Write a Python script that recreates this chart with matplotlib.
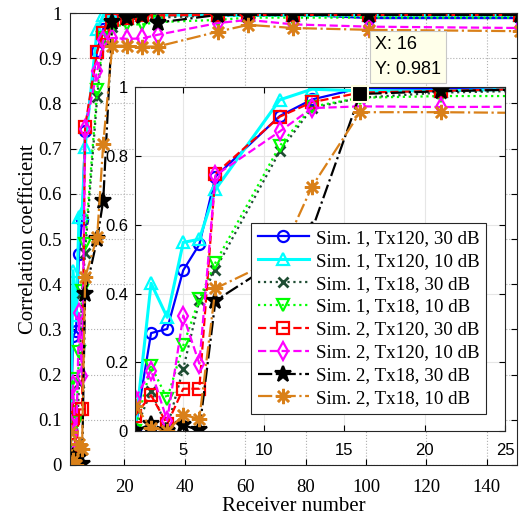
import numpy as np
import matplotlib
matplotlib.use('Agg')
import matplotlib.pyplot as plt

# receiver numbers
rx = [2, 3, 4, 5, 6, 7, 11, 13, 16, 21, 26, 31, 51, 61, 76, 101, 151]

s1_tx120_30 = [0.0, 0.285, 0.297, 0.468, 0.543, 0.740, 0.917, 0.965, 0.998, 0.995, 0.998, 0.997, 0.997, 0.997, 0.997, 0.989, 0.989]
s1_tx120_10 = [0.0, 0.430, 0.331, 0.549, 0.558, 0.703, 0.964, 0.995, 0.990, 0.990, 0.995, 0.996, 0.995, 0.995, 0.995, 0.995, 0.995]
s1_tx18_30 = [0.0, 0.115, 0.010, 0.181, 0.380, 0.470, 0.814, 0.940, 0.970, 0.985, 0.990, 0.990, 0.995, 0.995, 0.995, 0.995, 0.995]
s1_tx18_10 = [0.0, 0.190, 0.094, 0.249, 0.384, 0.490, 0.830, 0.944, 0.970, 0.975, 0.975, 0.980, 0.985, 0.990, 0.990, 0.990, 0.990]
s2_tx120_30 = [0.045, 0.104, 0.020, 0.123, 0.123, 0.749, 0.915, 0.957, 0.985, 0.990, 0.995, 0.995, 0.996, 0.996, 0.996, 0.996, 0.996]
s2_tx120_10 = [0.094, 0.176, 0.030, 0.336, 0.196, 0.744, 0.872, 0.940, 0.945, 0.943, 0.944, 0.952, 0.978, 0.985, 0.975, 0.970, 0.967]
s2_tx18_30 = [0.0, 0.020, 0.0, 0.017, 0.002, 0.379, 0.500, 0.585, 0.981, 0.989, 0.994, 0.979, 0.996, 0.996, 0.996, 0.996, 0.996]
s2_tx18_10 = [0.074, 0.010, 0.0, 0.046, 0.036, 0.415, 0.505, 0.711, 0.928, 0.928, 0.926, 0.926, 0.959, 0.974, 0.967, 0.963, 0.960]

labels = ['Sim. 1, Tx120, 30 dB', 'Sim. 1, Tx120, 10 dB', 'Sim. 1, Tx18, 30 dB', 'Sim. 1, Tx18, 10 dB',
          'Sim. 2, Tx120, 30 dB', 'Sim. 2, Tx120, 10 dB', 'Sim. 2, Tx18, 30 dB', 'Sim. 2, Tx18, 10 dB']
tip_x = 16
tip_y = 0.981

series = [s1_tx120_30, s1_tx120_10, s1_tx18_30, s1_tx18_10, s2_tx120_30, s2_tx120_10, s2_tx18_30, s2_tx18_10]
orange = '#D98019'
styles = [
    dict(color='#0000FF', ls='-', marker='o', mfc='none', ms=8),
    dict(color='#00FFFF', ls='-', marker='^', mfc='none', ms=9, lw=2.2),
    dict(color='#1F4D33', ls=':', marker='x', ms=7, mew=2),
    dict(color='#00FF00', ls=':', marker='v', mfc='none', ms=9),
    dict(color='#FF0000', ls='--', marker='s', mfc='none', ms=8),
    dict(color='#FF00FF', ls='--', marker='d', mfc='none', ms=9),
    dict(color='k', ls='-.', marker='*', mfc='k', ms=12),
    dict(color=orange, ls='-.', marker=(8, 2, 0), ms=11, mew=1.8),
]

serif = ['Liberation Serif', 'DejaVu Serif']
sans = ['Liberation Sans', 'DejaVu Sans']

fig = plt.figure(figsize=(5.22, 5.2), dpi=100)
ax = fig.add_axes([0.1341, 0.1058, 0.8563, 0.869])

def draw(a):
    hs = []
    for y, st in zip(series, styles):
        kw = dict(lw=1.6, mew=1.6)
        kw.update(st)
        h, = a.plot(rx, y, **kw)
        hs.append(h)
    return hs

draw(ax)
ax.set_xlim(2, 150)
ax.set_ylim(0, 1)
ax.set_xticks(np.arange(20, 141, 20))
ax.set_yticks(np.arange(0, 1.01, 0.1))
ax.set_yticklabels(['0', '0.1', '0.2', '0.3', '0.4', '0.5', '0.6', '0.7', '0.8', '0.9', '1'])
ax.grid(True, ls=':', color='#B0B0B0', lw=0.8)
ax.tick_params(direction='in', top=True, right=True, length=4, labelsize=13.5, pad=6)
ax.tick_params(axis='x', pad=10)
for t in ax.get_xticklabels() + ax.get_yticklabels():
    t.set_family(serif)
ax.set_xlabel('Receiver number', family=serif, fontsize=15, labelpad=1)
ax.set_ylabel('Correlation coefficient', family=serif, fontsize=15, labelpad=0)
for sp in ax.spines.values():
    sp.set_color('#262626')

# inset
ins = fig.add_axes([0.2586, 0.1712, 0.7088, 0.6606])
hs = draw(ins)
ins.set_xlim(2, 25)
ins.set_ylim(0, 1)
ins.set_xticks([5, 10, 15, 20, 25])
ins.set_yticks([0, 0.2, 0.4, 0.6, 0.8, 1.0])
ins.set_yticklabels(['0', '0.2', '0.4', '0.6', '0.8', '1'])
ins.grid(True, ls='-', color='#E6E6E6', lw=0.8)
ins.tick_params(direction='in', top=True, right=True, length=4, labelsize=12, pad=5)
ins.tick_params(axis='x', pad=9)
for t in ins.get_xticklabels() + ins.get_yticklabels():
    t.set_family(sans)
for sp in ins.spines.values():
    sp.set_color('#262626')

# data tip
ins.plot([tip_x], [tip_y], 's', color='k', ms=11, mec='#FFFFE0', mew=1.5, zorder=10, clip_on=False)
fig.text(375 / 522, 1 - 57 / 520, 'X: %d\nY: %.3f' % (tip_x, tip_y), family=sans, fontsize=13,
         va='center', ha='left', linespacing=1.6,
         bbox=dict(boxstyle='square,pad=0.3', fc='#FFFFEA', ec='#C8C8C8', lw=0.8), zorder=20)

leg = ins.legend(hs, labels, loc='upper left', bbox_to_anchor=(251 / 522, 1 - 223 / 520),
                 bbox_transform=fig.transFigure, borderaxespad=0, fancybox=False, framealpha=1,
                 edgecolor='#262626', prop={'family': serif, 'size': 13.6}, handlelength=2.7,
                 handletextpad=0.4, labelspacing=0.3, borderpad=0.35)
leg.get_frame().set_linewidth(0.8)

fig.savefig('out.png', dpi=100)
